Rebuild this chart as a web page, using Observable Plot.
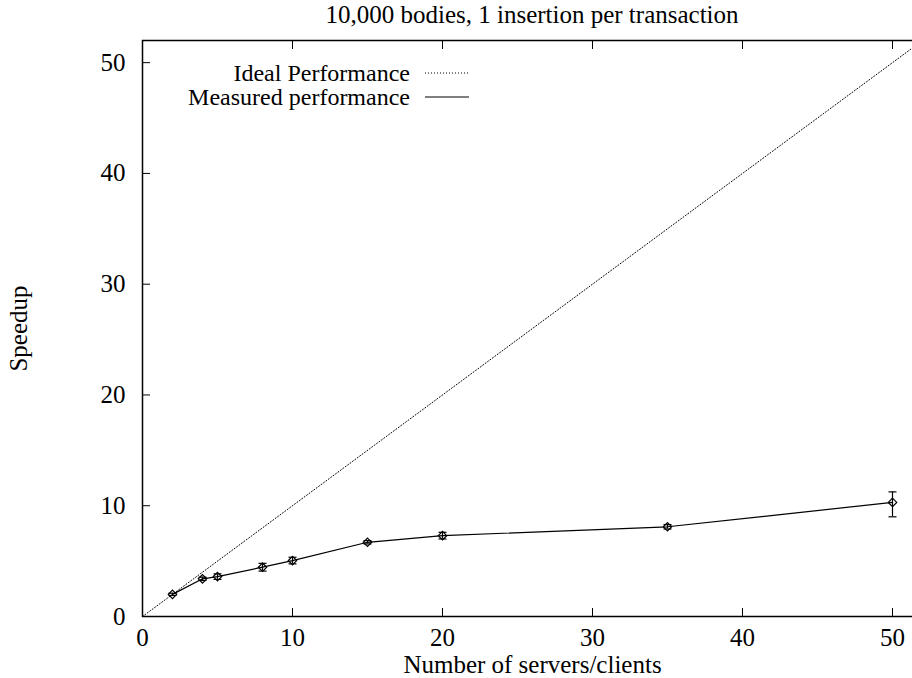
<!DOCTYPE html>
<html><head><meta charset="utf-8">
<script src="https://cdn.jsdelivr.net/npm/d3@7"></script>
<script src="https://cdn.jsdelivr.net/npm/@observablehq/plot@0.6"></script>
<style>
html,body{margin:0;padding:0;background:#fff;overflow:hidden;width:912px;height:678px;}
#wrap{position:relative;width:922px;height:678px;}
#title{box-sizing:border-box;width:922px;height:30px;line-height:30px;padding-left:142px;text-align:center;font-family:"Liberation Serif",serif;font-size:25px;color:#000;white-space:nowrap;}
.leg{position:absolute;left:0;width:410px;text-align:right;font-family:"Liberation Serif",serif;font-size:24px;line-height:22px;color:#000;white-space:nowrap;}
.legsvg{position:absolute;left:424px;width:46px;height:6px;}
</style>
</head><body>
<div id="wrap">
  <div id="title"></div>
  <div id="chart"></div>
</div>
<script>
const titleText = "10,000 bodies, 1 insertion per transaction";
const xLabel = "Number of servers/clients";
const yLabel = "Speedup";
const legendLabels = ["Ideal Performance", "Measured performance"];
const xTicks = [0, 10, 20, 30, 40, 50];
const yTicks = [0, 10, 20, 30, 40, 50];
const xDomain = [0, 52];
const yDomain = [0, 52];
const idealX = [0, 52];
const idealY = [0, 52];
const nodes   = [2, 4, 5, 8, 10, 15, 20, 35, 50];
const speedup = [2.0, 3.4, 3.6, 4.45, 5.05, 6.7, 7.3, 8.1, 10.3];
const errLow  = [1.9, 3.25, 3.35, 4.1, 4.75, 6.55, 7.0, 7.9, 9.0];
const errHigh = [2.1, 3.55, 3.85, 4.8, 5.35, 6.85, 7.6, 8.3, 11.25];

document.getElementById("title").textContent = titleText;

const ideal = idealX.map((x, i) => ({x, y: idealY[i]}));
const measured = nodes.map((x, i) => ({x, y: speedup[i], lo: errLow[i], hi: errHigh[i]}));
const capSymbol = {draw(ctx) { ctx.moveTo(-4, 0); ctx.lineTo(4, 0); }};

const chart = Plot.plot({
  width: 922, height: 648,
  marginTop: 10, marginLeft: 142, marginRight: 0, marginBottom: 62,
  x: {domain: xDomain}, y: {domain: yDomain},
  style: {fontFamily: "Liberation Serif", fontSize: "23px", color: "#000", background: "#fff"},
  marks: [
    Plot.line(ideal, {x: "x", y: "y", stroke: "#000", strokeWidth: 1, strokeDasharray: "1,2"}),
    Plot.line(measured, {x: "x", y: "y", stroke: "#000", strokeWidth: 1.2}),
    Plot.ruleX(measured, {x: "x", y1: "lo", y2: "hi", stroke: "#000", strokeWidth: 1.2}),
    Plot.dot(measured, {x: "x", y: "lo", symbol: capSymbol, stroke: "#000", strokeWidth: 1.2, fill: "none"}),
    Plot.dot(measured, {x: "x", y: "hi", symbol: capSymbol, stroke: "#000", strokeWidth: 1.2, fill: "none"}),
    Plot.dot(measured, {x: "x", y: "y", symbol: "diamond2", r: 3.8, stroke: "#000", strokeWidth: 1.2, fill: "none"}),
    Plot.axisX({ticks: xTicks, tickSize: -8, tickPadding: 20, label: xLabel, labelAnchor: "center", labelArrow: "none", labelOffset: 56, fontSize: 25, dx: 0}),
    Plot.axisX({anchor: "top", ticks: xTicks, tickSize: -8, tickFormat: () => "", label: null}),
    Plot.axisY({ticks: yTicks, tickSize: -8, tickPadding: 25, label: yLabel, labelAnchor: "center", labelArrow: "none", labelOffset: 133, fontSize: 25}),
    Plot.frame({stroke: "#000", strokeWidth: 1.5})
  ]
});
document.getElementById("chart").appendChild(chart);

// legend
const wrap = document.getElementById("wrap");
const rowsY = [73, 97];
legendLabels.forEach((lab, i) => {
  const d = document.createElement("div");
  d.className = "leg";
  d.style.top = (rowsY[i] - 11) + "px";
  d.textContent = lab;
  wrap.appendChild(d);
  const s = document.createElementNS("http://www.w3.org/2000/svg", "svg");
  s.setAttribute("class", "legsvg");
  s.style.top = (rowsY[i] - 3) + "px";
  const l = document.createElementNS("http://www.w3.org/2000/svg", "line");
  l.setAttribute("x1", 1); l.setAttribute("x2", 45); l.setAttribute("y1", 3); l.setAttribute("y2", 3);
  l.setAttribute("stroke", "#000");
  l.setAttribute("stroke-width", i === 0 ? 1 : 1.2);
  if (i === 0) l.setAttribute("stroke-dasharray", "1,2");
  s.appendChild(l);
  wrap.appendChild(s);
});
</script>
</body></html>
